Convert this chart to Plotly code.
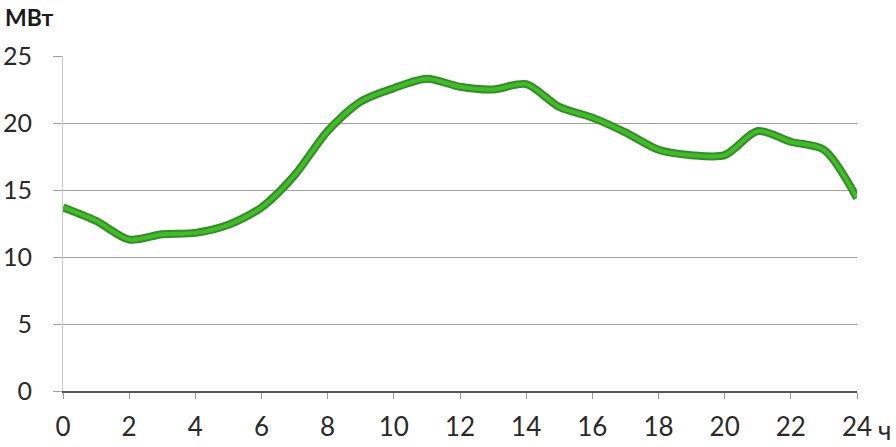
import plotly.graph_objects as go

hours = list(range(25))
power_mw = [13.7, 12.7, 11.3, 11.7, 11.8, 12.4, 13.7, 16.1, 19.4, 21.6,
            22.6, 23.3, 22.7, 22.5, 22.9, 21.2, 20.4, 19.3, 18.0, 17.6,
            17.6, 19.4, 18.6, 18.0, 14.4]

x_ticks = list(range(0, 25, 2))
x_labels = [str(h) for h in x_ticks]
y_ticks = [0, 5, 10, 15, 20, 25]

font_main = "Lato, 'Open Sans', sans-serif"

fig = go.Figure()
# darker outer edge + brighter core to get the thick green stroke
fig.add_trace(go.Scatter(x=hours, y=power_mw, mode="lines",
                         line=dict(color="#2f8f22", width=8, shape="spline", smoothing=0.8),
                         hoverinfo="skip", showlegend=False))
fig.add_trace(go.Scatter(x=hours, y=power_mw, mode="lines",
                         line=dict(color="#46b82d", width=4, shape="spline", smoothing=0.8),
                         showlegend=False))

fig.update_layout(
    width=896, height=447,
    margin=dict(l=63, r=39, t=56, b=56),
    paper_bgcolor="white", plot_bgcolor="white",
    font=dict(family=font_main, size=26, color="#2a2a2a"),
    xaxis=dict(range=[0, 24], tickvals=x_ticks, ticktext=x_labels,
               showgrid=False, zeroline=False, automargin=False,
               showline=True, linecolor="#555555", linewidth=2,
               ticks="outside", ticklen=6, tickcolor="#9a9a9a", tickwidth=1,
               ticklabelstandoff=6),
    yaxis=dict(range=[0, 25], tickvals=y_ticks, automargin=False,
               showgrid=True, gridcolor="#a0a0a0", gridwidth=1.2,
               zeroline=False,
               showline=True, linecolor="#c8c8c8", linewidth=1,
               ticks="outside", ticklen=9, tickcolor="#a0a0a0",
               ticklabelstandoff=16, tickfont=dict(size=25)),
    annotations=[
        dict(text="<b>МВт</b>", xref="paper", yref="paper", x=-60 / 794, y=1 + 39 / 335,
             xanchor="left", yanchor="middle", showarrow=False,
             font=dict(family=font_main, size=23, color="#1a1a1a")),
        dict(text="ч", xref="paper", yref="paper", x=1 + 27 / 794, y=-39 / 335,
             xanchor="center", yanchor="middle", showarrow=False,
             font=dict(family=font_main, size=26, color="#2a2a2a")),
    ],
)

# drop the default body margin so the figure sits at the window's corner
fig.write_html("out.html", config={"displayModeBar": False},
               post_script="document.body.style.margin='0';")
